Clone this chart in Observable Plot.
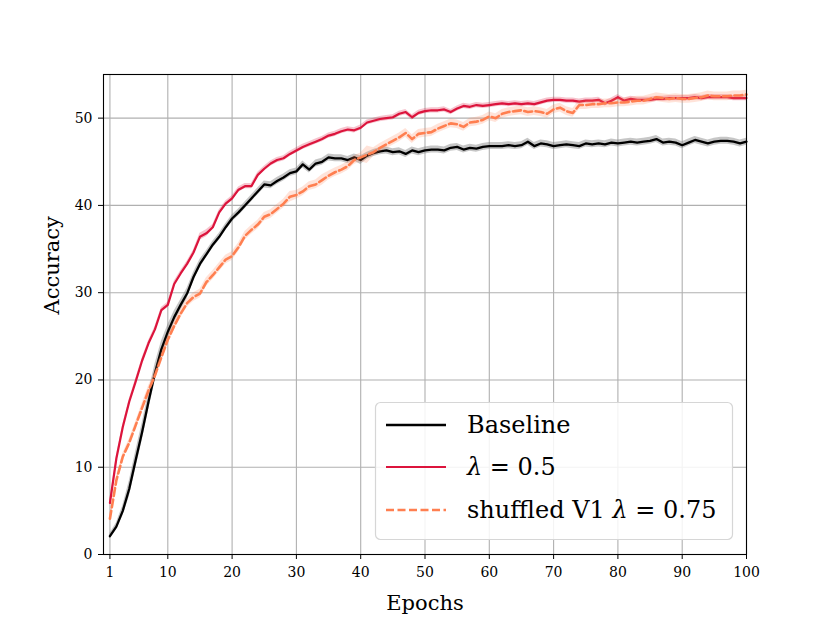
<!DOCTYPE html>
<html>
<head>
<meta charset="utf-8">
<script src="https://cdn.jsdelivr.net/npm/d3@7"></script>
<script src="https://cdn.jsdelivr.net/npm/@observablehq/plot@0.6"></script>
<style>
  html, body { margin: 0; padding: 0; background: #fff; }
  #chart { width: 830px; height: 623px; }
</style>
</head>
<body>
<div id="chart"></div>
<script>
const epochs = d3.range(1, 101);
const xTicks = [1, 10, 20, 30, 40, 50, 60, 70, 80, 90, 100];
const yTicks = [0, 10, 20, 30, 40, 50];
const seriesNames = ["Baseline", "λ = 0.5", "shuffled V1 λ = 0.75"];

const baseline = [2.1,3.2,5.0,7.5,10.8,14.0,17.5,20.8,23.5,25.5,
  27.2,28.6,29.9,31.8,33.3,34.4,35.5,36.4,37.5,38.5,
  39.2,40.0,40.8,41.6,42.4,42.3,42.8,43.2,43.7,43.9,
  44.7,44.1,44.8,45.0,45.5,45.4,45.4,45.2,45.5,45.2,
  45.7,46.0,46.2,46.3,46.1,46.2,45.9,46.3,46.1,46.3,
  46.4,46.4,46.3,46.6,46.7,46.4,46.6,46.5,46.7,46.8,
  46.8,46.8,46.9,46.8,46.9,47.3,46.8,47.1,47.0,46.8,
  46.9,47.0,46.9,46.8,47.1,47.0,47.1,47.0,47.2,47.1,
  47.2,47.3,47.2,47.3,47.4,47.6,47.2,47.3,47.2,46.9,
  47.2,47.5,47.3,47.1,47.3,47.4,47.4,47.3,47.1,47.3];
const baselineStd = [0.3,0.4,0.6,0.9,1.0,1.0,1.0,1.0,0.9,0.8,
  0.7,0.6,0.6,0.5,0.5,0.4,0.4,0.4,0.4,0.4,
  0.4,0.4,0.4,0.4,0.4,0.4,0.4,0.4,0.4,0.4,
  0.4,0.4,0.4,0.4,0.4,0.4,0.4,0.4,0.4,0.5,
  0.4,0.4,0.4,0.4,0.4,0.4,0.4,0.4,0.4,0.4,
  0.4,0.4,0.4,0.4,0.4,0.4,0.4,0.4,0.4,0.4,
  0.4,0.4,0.4,0.4,0.4,0.4,0.4,0.4,0.4,0.4,
  0.4,0.4,0.4,0.4,0.4,0.4,0.4,0.4,0.4,0.4,
  0.4,0.4,0.4,0.4,0.4,0.4,0.4,0.4,0.4,0.4,
  0.4,0.4,0.4,0.4,0.4,0.4,0.4,0.4,0.4,0.4];

const lam05 = [5.9,11.0,14.6,17.5,19.8,22.2,24.2,25.8,28.0,28.6,
  31.0,32.2,33.3,34.6,36.4,36.8,37.5,39.2,40.2,40.8,
  41.8,42.2,42.2,43.5,44.2,44.8,45.2,45.4,45.9,46.3,
  46.7,47.0,47.3,47.6,48.0,48.2,48.5,48.7,48.6,48.9,
  49.5,49.7,49.9,50.0,50.1,50.5,50.7,50.1,50.6,50.8,
  50.9,50.9,51.0,50.7,51.1,51.4,51.3,51.5,51.4,51.5,
  51.6,51.7,51.6,51.7,51.6,51.7,51.6,51.8,52.0,52.1,
  52.1,52.0,52.0,51.9,52.0,52.0,52.1,51.7,52.0,52.4,
  52.0,52.2,52.1,52.1,52.1,52.2,52.2,52.3,52.3,52.3,
  52.3,52.4,52.3,52.4,52.4,52.4,52.4,52.3,52.3,52.3];
const lam05Std = [0.3,0.3,0.3,0.3,0.3,0.3,0.3,0.3,0.3,0.3,
  0.3,0.3,0.3,0.3,0.4,0.4,0.3,0.3,0.3,0.3,
  0.3,0.3,0.3,0.3,0.3,0.3,0.3,0.3,0.3,0.3,
  0.3,0.3,0.3,0.3,0.3,0.3,0.3,0.3,0.3,0.3,
  0.3,0.3,0.3,0.3,0.3,0.3,0.3,0.3,0.3,0.3,
  0.3,0.3,0.3,0.3,0.3,0.3,0.3,0.3,0.3,0.3,
  0.3,0.3,0.3,0.3,0.3,0.3,0.3,0.3,0.3,0.3,
  0.3,0.3,0.3,0.3,0.3,0.3,0.3,0.3,0.3,0.3,
  0.3,0.3,0.3,0.3,0.3,0.3,0.3,0.3,0.3,0.3,
  0.3,0.3,0.3,0.3,0.3,0.3,0.3,0.3,0.3,0.3];

const shuffled = [4.1,8.5,11.2,12.8,14.8,16.8,18.8,20.5,22.6,24.6,
  26.2,27.6,28.8,29.5,29.9,31.2,32.0,32.9,33.8,34.2,
  35.2,36.5,37.2,37.8,38.7,39.0,39.6,40.2,41.0,41.2,
  41.6,42.2,42.4,42.9,43.4,43.8,44.1,44.5,45.2,45.5,
  45.8,46.1,46.6,47.0,47.4,47.8,48.3,47.6,48.2,48.3,
  48.4,48.8,49.1,49.4,49.3,49.0,49.5,49.6,49.8,50.2,
  50.0,50.5,50.7,50.8,50.9,50.7,50.8,50.7,50.5,51.0,
  51.2,50.8,50.6,51.5,51.5,51.6,51.6,51.7,51.7,51.8,
  51.8,51.9,52.0,52.0,52.2,52.4,52.3,52.2,52.3,52.2,
  52.2,52.3,52.4,52.6,52.5,52.5,52.5,52.6,52.6,52.7];
const shuffledStd = [0.4,0.4,0.4,0.4,0.4,0.5,0.5,0.5,0.5,0.5,
  0.5,0.5,0.5,0.5,0.5,0.5,0.5,0.5,0.5,0.5,
  0.5,0.5,0.5,0.5,0.5,0.5,0.5,0.5,0.6,0.5,
  0.5,0.5,0.5,0.6,0.5,0.5,0.5,0.5,0.5,0.5,
  1.0,0.5,0.5,0.5,0.5,0.5,0.5,0.5,0.5,0.5,
  0.5,0.5,0.5,0.5,0.5,0.5,0.5,0.5,0.5,0.5,
  0.5,0.5,0.5,0.5,0.5,0.5,0.5,0.5,0.5,0.5,
  0.5,0.5,0.5,0.5,0.5,0.5,0.5,0.5,0.5,0.5,
  0.5,0.5,0.5,0.5,0.5,0.5,0.5,0.5,0.5,0.5,
  0.5,0.5,0.5,0.5,0.5,0.5,0.5,0.5,0.5,0.5];

const colors = ["#000000", "#dc143c", "#ff7f50"];
const bandColors = ["#808080", "#dc143c", "#ff7f50"];

function rows(vals, stds) {
  return epochs.map((e, i) => ({x: e, y: vals[i], lo: vals[i] - stds[i], hi: vals[i] + stds[i]}));
}
const dB = rows(baseline, baselineStd);
const dR = rows(lam05, lam05Std);
const dO = rows(shuffled, shuffledStd);

const font = "'DejaVu Serif', 'Liberation Serif', serif";

const chart = Plot.plot({
  width: 830, height: 623,
  marginLeft: 103, marginRight: 84, marginTop: 74, marginBottom: 69,
  style: {fontFamily: font, background: "#fff", color: "#000"},
  x: {domain: [0, 100]},
  y: {domain: [0, 55]},
  marks: [
    Plot.gridX(xTicks, {stroke: "#b0b0b0", strokeOpacity: 1, strokeWidth: 1.1}),
    Plot.gridY(yTicks, {stroke: "#b0b0b0", strokeOpacity: 1, strokeWidth: 1.1}),
    Plot.areaY(dB, {x: "x", y1: "lo", y2: "hi", fill: bandColors[0], fillOpacity: 0.45}),
    Plot.line(dB, {x: "x", y: "y", stroke: colors[0], strokeWidth: 2.3}),
    Plot.areaY(dR, {x: "x", y1: "lo", y2: "hi", fill: bandColors[1], fillOpacity: 0.25}),
    Plot.line(dR, {x: "x", y: "y", stroke: colors[1], strokeWidth: 2.2}),
    Plot.areaY(dO, {x: "x", y1: "lo", y2: "hi", fill: bandColors[2], fillOpacity: 0.22}),
    Plot.line(dO, {x: "x", y: "y", stroke: colors[2], strokeWidth: 2.6, strokeDasharray: "8,3.5"}),
    Plot.frame({stroke: "#000", strokeWidth: 1.1}),
    Plot.axisX(xTicks, {tickSize: 5, tickPadding: 8, fontSize: 14, label: null, stroke: "#000"}),
    Plot.axisY(yTicks, {tickSize: 5, tickPadding: 6, fontSize: 14, label: null, stroke: "#000"}),
    Plot.text(["Epochs"], {frameAnchor: "bottom", dy: 55, fontSize: 21, fill: "#000"}),
    Plot.text(["Accuracy"], {frameAnchor: "left", dx: -51, rotate: -90, fontSize: 21, fill: "#000"})
  ]
});
document.getElementById("chart").appendChild(chart);

// Legend (inside the plot, lower right)
const svg = d3.select(chart);
const lg = svg.append("g").attr("font-family", font).attr("text-anchor", "start");
lg.append("rect").attr("x", 375.5).attr("y", 402.5).attr("width", 357).attr("height", 137)
  .attr("rx", 5).attr("fill", "#fff").attr("fill-opacity", 0.85).attr("stroke", "#d6d6d6").attr("stroke-width", 1.2);
const entryY = [425, 467, 510];
const dashes = ["none", "none", "8,3.5"];
const widths = [2.3, 2.2, 2.6];
seriesNames.forEach((name, i) => {
  lg.append("line").attr("x1", 386).attr("x2", 446).attr("y1", entryY[i]).attr("y2", entryY[i])
    .attr("stroke", colors[i]).attr("stroke-width", widths[i]).attr("stroke-dasharray", dashes[i]);
  const t = lg.append("text").attr("x", 467).attr("y", entryY[i]).attr("dy", "0.35em")
    .attr("font-size", 24).attr("fill", "#000").attr("text-anchor", "start");
  const parts = name.split("λ");
  parts.forEach((p, j) => {
    if (j > 0) t.append("tspan").attr("font-style", "italic").text("λ");
    if (p) t.append("tspan").text(p);
  });
});
</script>
</body>
</html>
